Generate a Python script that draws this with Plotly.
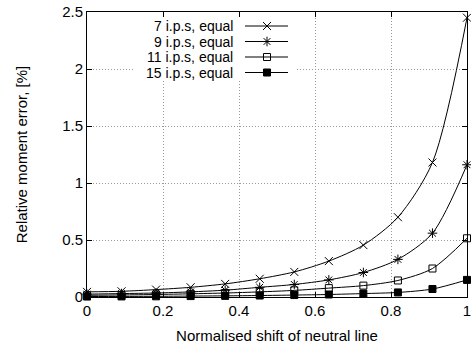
import plotly.graph_objects as go

# Normalised shift of the neutral line (12 evenly spaced samples)
shift = [0.0, 0.0909, 0.1818, 0.2727, 0.3636, 0.4545,
         0.5455, 0.6364, 0.7273, 0.8182, 0.9091, 1.0]

# Relative moment error, % for each integration-point setting
err_7 = [0.045, 0.05, 0.065, 0.085, 0.115, 0.16, 0.22, 0.315, 0.455, 0.70, 1.18, 2.45]
err_9 = [0.025, 0.03, 0.035, 0.045, 0.06, 0.085, 0.11, 0.15, 0.215, 0.33, 0.56, 1.16]
err_11 = [0.015, 0.018, 0.022, 0.028, 0.035, 0.045, 0.058, 0.078, 0.10, 0.145, 0.25, 0.515]
err_15 = [0.004, 0.005, 0.006, 0.008, 0.01, 0.013, 0.017, 0.022, 0.03, 0.04, 0.07, 0.15]

labels = ["7 i.p.s, equal", "9 i.p.s, equal", "11 i.p.s, equal", "15 i.p.s, equal"]
series = [err_7, err_9, err_11, err_15]
symbols = ["x-thin-open", "asterisk-open", "square-open", "square"]
sizes = [8, 8, 7, 7]

x_ticks = [0, 0.2, 0.4, 0.6, 0.8, 1]
x_tick_text = ["0", "0.2", "0.4", "0.6", "0.8", "1"]
y_ticks = [0, 0.5, 1, 1.5, 2, 2.5]
y_tick_text = ["0", "0.5", "1", "1.5", "2", "2.5"]
X_RANGE = [0, 1]
Y_RANGE = [0, 2.5]

W, H = 471, 347
L, R, T, B = 87, 4, 12, 50
FONT = "Liberation Sans, Arial, Helvetica, sans-serif"
FS = 15
KEY_FS = 14

plot_w = W - L - R
plot_h = H - T - B


def px_x(px):
    """pixel column -> x data value"""
    return X_RANGE[0] + (px - L) / plot_w * (X_RANGE[1] - X_RANGE[0])


def px_y(py):
    """pixel row -> y data value"""
    return Y_RANGE[0] + (H - B - py) / plot_h * (Y_RANGE[1] - Y_RANGE[0])


fig = go.Figure()

for vals, sym, sz in zip(series, symbols, sizes):
    fig.add_trace(go.Scatter(
        x=shift, y=vals, mode="lines+markers",
        line=dict(color="black", width=1, shape="spline", smoothing=0.8),
        marker=dict(symbol=sym, size=sz, color="black",
                    line=dict(color="black", width=1)),
        showlegend=False, cliponaxis=False,
    ))

# Key: text on the left, sample line + symbol on the right
key_rows = [26, 41.5, 57, 72.5]
text_right = 234
line_x0, line_x1, mark_x = 245, 288, 267
for lab, sym, sz, row in zip(labels, symbols, sizes, key_rows):
    yy = px_y(row)
    fig.add_trace(go.Scatter(
        x=[px_x(line_x0), px_x(line_x1)], y=[yy, yy], mode="lines",
        line=dict(color="black", width=1),
        showlegend=False, hoverinfo="skip", cliponaxis=False,
    ))
    fig.add_trace(go.Scatter(
        x=[px_x(mark_x)], y=[yy], mode="markers",
        marker=dict(symbol=sym, size=sz, color="black",
                    line=dict(color="black", width=1)),
        showlegend=False, hoverinfo="skip", cliponaxis=False,
    ))
    fig.add_annotation(
        x=px_x(text_right), y=yy, xref="x", yref="y", text=lab,
        showarrow=False, xanchor="right", yanchor="middle", borderpad=0,
        font=dict(family=FONT, size=KEY_FS, color="black"),
    )

# opaque key background hiding the grid behind it
fig.add_shape(
    type="rect", xref="x", yref="y",
    x0=px_x(135), x1=px_x(297), y0=px_y(80), y1=Y_RANGE[1],
    fillcolor="white", line=dict(width=0), layer="between",
)

axis_common = dict(
    showline=True, linecolor="black", linewidth=1, mirror="allticks",
    ticks="inside", ticklen=5, tickcolor="black", tickwidth=1,
    showgrid=True, gridcolor="#9a9a9a", gridwidth=1, griddash="1px,2px",
    zeroline=False, automargin=False, ticklabeloverflow="allow",
    tickfont=dict(family=FONT, size=FS, color="black"),
)

fig.update_layout(
    width=W, height=H,
    margin=dict(l=L, r=R, t=T, b=B, pad=0),
    paper_bgcolor="white", plot_bgcolor="white",
    font=dict(family=FONT, size=FS, color="black"),
    xaxis=dict(range=X_RANGE, tickvals=x_ticks, ticktext=x_tick_text,
               title=dict(text="Normalised shift of neutral line", standoff=12,
                          font=dict(family=FONT, size=FS)),
               **axis_common),
    yaxis=dict(range=Y_RANGE, tickvals=y_ticks, ticktext=y_tick_text,
               title=dict(text="Relative moment error, [%]", standoff=30,
                          font=dict(family=FONT, size=FS)),
               **axis_common),
)

fig.write_html("out.html")
